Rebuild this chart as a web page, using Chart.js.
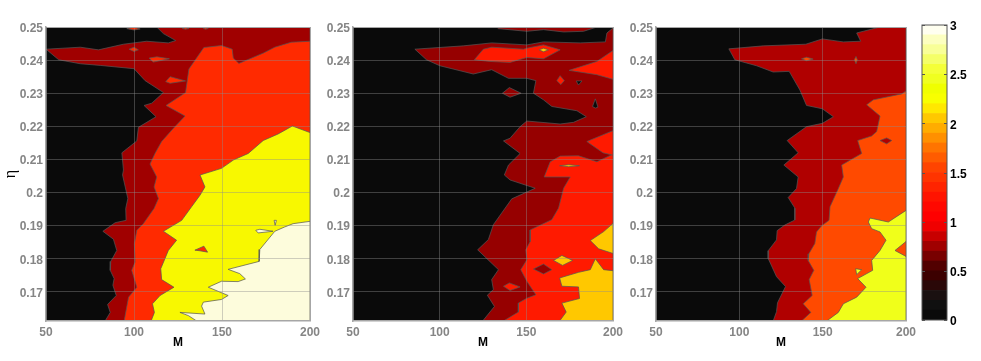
<!DOCTYPE html>
<html>
<head>
<meta charset="utf-8">
<script src="https://cdn.jsdelivr.net/npm/chart.js@4/dist/chart.umd.min.js"></script>
<style>
  html, body { margin: 0; padding: 0; background: #fff; }
  canvas { position: absolute; top: 0; }
</style>
</head>
<body>
<canvas id="panel1" width="330" height="361" style="left:0"></canvas>
<canvas id="panel2" width="330" height="361" style="left:307px"></canvas>
<canvas id="panel3" width="320" height="361" style="left:610px"></canvas>
<canvas id="colorbar" width="81" height="361" style="left:900px"></canvas>
<script>
// Axis ticks
const mTicks = [50, 100, 150, 200];
const etaTicks = [0.25, 0.24, 0.23, 0.22, 0.21, 0.2, 0.19, 0.18, 0.17];
const colorTicks = [0, 0.5, 1, 1.5, 2, 2.5, 3];

// Contour regions, as [M, eta] outlines
const frame = [[50, 0.1612], [200, 0.1612], [200, 0.25], [50, 0.25]];

// Left panel
const p1Level1 = [[112.9,0.25],[116.7,0.248],[123.7,0.2459],[119.5,0.2452],[107.2,0.2457],[94,0.2448],[79.8,0.2431],[69.5,0.2439],[50,0.2433],[57.2,0.2401],[69.5,0.2389],[80.8,0.2384],[100,0.2374],[106.3,0.2338],[116.7,0.2302],[110.1,0.227],[105.7,0.2263],[112.5,0.2229],[102.5,0.2197],[101.6,0.2156],[93.1,0.212],[94,0.2068],[93.5,0.2053],[96.5,0.1982],[95.3,0.1952],[95.5,0.1916],[89.3,0.1909],[82.3,0.1883],[88.3,0.1859],[90.2,0.1825],[86.8,0.1792],[86.5,0.1765],[88.7,0.174],[88,0.172],[89.9,0.1689],[85,0.1662],[86.5,0.1638],[83.6,0.1612],[200,0.1612],[200,0.25]];
const p1Level2 = [[200,0.2457],[189.4,0.2454],[180,0.2439],[173.4,0.2421],[159.6,0.239],[156.4,0.2406],[155.8,0.2433],[149.7,0.2444],[139.7,0.2438],[131.2,0.2373],[129.3,0.2302],[118.2,0.2263],[129,0.2231],[122.4,0.2194],[115.7,0.2154],[112,0.2119],[109.1,0.2086],[112.9,0.2047],[111.4,0.2017],[113.9,0.1982],[111.4,0.1952],[105.3,0.1906],[101.6,0.1886],[100.2,0.1845],[100.6,0.179],[98.7,0.1765],[101.6,0.1714],[96.9,0.1684],[94.4,0.1612],[200,0.1612]];
const p1Level3 = [[200,0.2181],[190,0.2201],[181.9,0.2177],[173.4,0.2157],[164.9,0.2118],[156.4,0.2098],[149.7,0.2073],[137.5,0.2053],[140.3,0.2017],[137.5,0.1992],[132.7,0.1957],[127.1,0.1916],[116.7,0.1883],[124.2,0.1856],[119.5,0.1825],[115.2,0.177],[115.7,0.1737],[122.7,0.1714],[114.8,0.1689],[110.5,0.1664],[111.6,0.1638],[109.7,0.1612],[200,0.1612]];
const p1Level4 = [[200,0.1913],[190.4,0.1906],[185.6,0.1896],[180,0.1883],[171.5,0.1828],[171.1,0.1792],[153.5,0.1768],[160.1,0.1755],[163.3,0.1739],[159.2,0.1731],[149.7,0.1732],[142.2,0.1714],[153.5,0.1689],[149.7,0.1677],[139.4,0.1669],[138.4,0.1657],[140.3,0.1633],[126.1,0.1638],[131,0.1628],[135.6,0.1612],[200,0.1612]];
const p1DotA = [[95.9,0.2495],[100,0.2499],[103.5,0.2494],[100,0.2491]];
const p1DotB = [[127.4,0.2496],[129.3,0.2498],[131.2,0.2496],[129.3,0.2493]];
const p1DotC = [[139.4,0.2496],[140.7,0.2498],[142.2,0.2496],[140.7,0.2493]];
const p1DotD = [[97.2,0.2433],[100,0.2439],[102.5,0.2431],[100,0.2426]];
const p1DotE = [[108.6,0.2406],[113,0.241],[120.1,0.2404],[110.9,0.2394]];
const p1DotF = [[118,0.2335],[120.5,0.235],[129.3,0.2337],[120.5,0.233]];
const p1DotG = [[134.6,0.1826],[139.7,0.1838],[141.8,0.182],[137.5,0.1824]];
const p1DotH = [[169.2,0.1886],[171.5,0.1889],[179,0.1883],[170.5,0.1878]];
const p1DotI = [[179.6,0.1916],[180.9,0.1916],[180.2,0.1901]];

// Middle panel
const p2Level1 = [[200,0.2497],[196.5,0.2482],[195.6,0.2455],[181.1,0.2452],[159.9,0.2455],[150.3,0.2446],[130,0.2452],[113.6,0.2443],[85.7,0.2433],[92.4,0.2401],[100.1,0.2383],[119.4,0.2358],[130,0.2371],[139.7,0.2345],[150.3,0.2345],[155.5,0.2338],[154.1,0.23],[159.9,0.228],[164.7,0.226],[179.2,0.2247],[184.6,0.2229],[177.2,0.2212],[169.5,0.2207],[150.3,0.2216],[146.4,0.2199],[140.6,0.2164],[136.8,0.2156],[146.4,0.2118],[139.7,0.2083],[137.3,0.2053],[140.6,0.2038],[155.1,0.2013],[141.6,0.1981],[131,0.1903],[128.1,0.1858],[121.9,0.1827],[133.9,0.1767],[130,0.1737],[131,0.1707],[127.5,0.169],[131.6,0.1656],[124.8,0.1612],[200,0.1612]];
const p2Strip = [[132.9,0.25],[133.9,0.2495],[150.3,0.2487],[159.9,0.2492],[171.5,0.2485],[183,0.2487],[190.7,0.25]];
const p2Level2 = [[200,0.2116],[190.7,0.2093],[180.1,0.2111],[169.5,0.211],[163.8,0.2093],[160.3,0.2047],[175.3,0.2047],[171.5,0.2013],[168.6,0.1953],[164.7,0.1918],[152.2,0.1887],[152.2,0.1852],[149.7,0.1827],[150.3,0.1797],[146.8,0.1767],[150.3,0.1732],[155.5,0.1691],[150.3,0.1681],[145.4,0.1666],[145.4,0.1639],[136.8,0.1612],[200,0.1612]];
const p2Top = [[120,0.2401],[125.2,0.2433],[130,0.2439],[148.3,0.2433],[150.3,0.2436],[159.9,0.2446],[169.5,0.2431],[159.9,0.2404],[150.3,0.2408],[140.6,0.2393],[129,0.2396]];
const p2Right1 = [[200,0.2429],[190.7,0.2396],[174.7,0.2369],[190.7,0.2356],[200,0.2342]];
const p2Right2 = [[200,0.2187],[184.9,0.2154],[194.2,0.212],[200,0.2113]];
const p2DotA = [[167.6,0.2338],[169.5,0.2353],[171.9,0.2338],[169.9,0.2326]];
const p2DotB = [[136.8,0.1717],[140.2,0.1727],[146.4,0.1715],[140.6,0.1704]];
const p2HoleA = [[178.8,0.2337],[180.1,0.2325],[182.1,0.2337]];
const p2HoleB = [[188.2,0.226],[189.8,0.2283],[191.3,0.2258],[189.8,0.2255]];
const p2Dark1 = [[136.2,0.23],[140.2,0.2317],[147,0.23],[140.6,0.2288]];
const p2Dark2 = [[154.1,0.1769],[159.9,0.1784],[164.7,0.1767],[159.9,0.1754]];
const p2Level3 = [[200,0.1764],[194.6,0.1767],[189.8,0.18],[186.9,0.1767],[180.1,0.1759],[169.2,0.1742],[170.5,0.1717],[180.1,0.1715],[180.7,0.168],[170.5,0.1666],[173,0.1639],[169.2,0.1612],[200,0.1612]];
const p2Right3 = [[200,0.1907],[194.6,0.1882],[186.9,0.1855],[191.7,0.183],[200,0.1816]];
const p2Gold1 = [[165.7,0.1795],[170.5,0.181],[176.7,0.1795],[170.9,0.178]];
const p2Gold2 = [[157.4,0.2431],[159.9,0.2436],[162.8,0.2431],[159.9,0.2425]];
const p2Gold3 = [[169.2,0.2081],[174.4,0.2084],[180.7,0.2081],[174.4,0.2078]];

// Right panel
const p3Level1 = [[184.4,0.25],[170.4,0.2482],[172.8,0.2457],[162.4,0.2455],[149.8,0.2464],[139.9,0.2448],[114.3,0.2443],[93.7,0.2434],[97.3,0.2401],[110.3,0.2383],[120.3,0.2364],[129.9,0.2366],[136.3,0.231],[140.3,0.2263],[149.8,0.2253],[156.4,0.2229],[149.8,0.2209],[140.3,0.2199],[128.7,0.2157],[135.3,0.212],[126.7,0.2083],[135.3,0.2047],[134.3,0.2012],[129.3,0.1985],[133.3,0.1953],[133.3,0.1917],[127.3,0.1902],[122.7,0.1885],[122.3,0.1857],[117.3,0.1824],[117.3,0.1801],[122.3,0.1746],[127.7,0.1716],[122.9,0.1667],[122.3,0.164],[120.3,0.1612],[200,0.1612],[200,0.25]];
const p3Level2 = [[200,0.2307],[197.4,0.2298],[180.4,0.228],[176.4,0.2265],[184.4,0.2231],[182.4,0.2184],[179.4,0.2171],[171,0.2157],[173.4,0.2118],[161.4,0.2083],[162.4,0.2047],[159.4,0.2012],[154.4,0.1957],[153.8,0.1916],[149.4,0.19],[146.3,0.1881],[145.3,0.1846],[141.7,0.1815],[141.3,0.1795],[144.7,0.1765],[141.9,0.1737],[143.7,0.1689],[138.3,0.1664],[142.9,0.1638],[137.3,0.1612],[200,0.1612]];
const p3Level3 = [[200,0.1946],[189.4,0.1911],[178.4,0.1923],[177.4,0.1911],[179.4,0.1891],[184.4,0.1881],[188,0.1856],[184.4,0.1825],[179.4,0.1795],[180,0.1765],[171,0.174],[176,0.1714],[170.4,0.1684],[162.4,0.1664],[159.4,0.1638],[152.4,0.1612],[200,0.1612]];
const p3Notch = [[200,0.1852],[193.4,0.1825],[200,0.1807]];
const p3Speck = [[169.8,0.177],[173.4,0.1767],[170.4,0.1752]];
const p3Dark = [[184.4,0.2157],[188.4,0.2165],[191.4,0.2157],[188.4,0.2147]];
const p3DotA = [[137.3,0.2404],[140.3,0.2409],[144.3,0.2403],[140.3,0.2398]];
const p3DotB = [[169,0.2401],[170,0.2411],[170.8,0.2401],[170,0.2389]];

// Colorbar bands, 0.1 wide, bottom to top
const bandWidth = 0.1;
const bandColors = ['#0a0a0a','#101010','#1a1010','#2a0808','#3c0000','#520000','#780000','#a00000','#c80000','#f00000',
  '#ff0000','#ff0800','#ff1400','#ff2400','#ff3400','#ff4400','#ff5c00','#ff7400','#ff9000','#ffac00',
  '#ffc800','#ffe800','#f8ff00','#f0ff00','#f0ff20','#f4ff38','#f4ff68','#f8ff98','#fcffc0','#fffff0'];

const BLACK = '#0a0a0a';
const GRID = 'rgba(140, 140, 140, 0.42)';
const EDGE = '#a6a6a6';
const TICK_GRAY = '#858585';

function region(points, color) {
    const closed = points.concat([points[0]]);
    return {
        data: closed.map(p => ({ x: p[0], y: p[1] })),
        showLine: true,
        fill: 'shape',
        backgroundColor: color,
        borderColor: 'rgba(85, 85, 85, 0.9)',
        borderWidth: 0.8,
        tension: 0,
        pointRadius: 0
    };
}

function drawPanel(id, regions, opts) {
    // chart.js paints the last dataset first, so flip to keep painter's order
    const datasets = [Object.assign(region(frame, BLACK), { borderWidth: 0 })]
        .concat(regions.map(r => region(r[0], r[1]))).reverse();

    new Chart(document.getElementById(id), {
        type: 'scatter',
        data: { datasets },
        options: {
            responsive: false,
            animation: false,
            events: [],
            layout: { padding: { top: 27, right: opts.right, left: 0, bottom: 0 } },
            plugins: { legend: { display: false }, tooltip: { enabled: false } },
            scales: {
                x: {
                    type: 'linear',
                    min: 50,
                    max: 200,
                    afterBuildTicks: s => { s.ticks = mTicks.map(v => ({ value: v })); },
                    afterFit: s => { s.height = 40; s.paddingLeft = 0; s.paddingRight = 0; },
                    grid: { z: 1, drawTicks: false, color: c => (c.tick && c.tick.value === 200) ? EDGE : GRID, lineWidth: 1 },
                    border: { z: 2, color: EDGE, width: 1.5 },
                    ticks: { color: TICK_GRAY, padding: 4, maxRotation: 0, font: { family: 'Liberation Sans', size: 12, weight: 'bold' } },
                    title: { display: true, text: 'M', color: '#000', padding: { top: 0, bottom: 11 }, font: { family: 'Liberation Sans', size: 12, weight: 'bold' } }
                },
                y: {
                    type: 'linear',
                    min: 0.1612,
                    max: 0.25,
                    afterBuildTicks: s => { s.ticks = etaTicks.map(v => ({ value: v })); },
                    afterFit: s => { s.width = 46; s.paddingTop = 0; s.paddingBottom = 0; },
                    grid: { z: 1, drawTicks: false, color: c => (c.tick && c.tick.value === 0.25) ? EDGE : GRID, lineWidth: 1 },
                    border: { z: 2, color: EDGE, width: 1.5 },
                    ticks: { color: TICK_GRAY, padding: 3, labelOffset: 1.5, callback: v => String(v), font: { family: 'Liberation Sans', size: 12, weight: 'bold' } },
                    title: { display: opts.showEta, text: 'η', color: '#000', padding: { top: 1, bottom: 0 }, font: { family: 'Liberation Serif', size: 16 } }
                }
            }
        }
    });
}

const DARK1 = '#a00000', RED1 = '#ff2a00', YELLOW1 = '#f8f800', CREAM1 = '#fdfcdc';
drawPanel('panel1', [
    [p1Level1, DARK1], [p1Level2, RED1], [p1Level3, YELLOW1], [p1Level4, CREAM1],
    [p1DotA, RED1], [p1DotB, RED1], [p1DotC, RED1], [p1DotD, RED1], [p1DotE, RED1], [p1DotF, RED1],
    [p1DotG, RED1], [p1DotH, CREAM1], [p1DotI, CREAM1]
], { right: 20, showEta: true });

const DARK2 = '#960000', RED2 = '#ff1a00', GOLD2 = '#ffc800';
drawPanel('panel2', [
    [p2Level1, DARK2], [p2Strip, DARK2], [p2Level2, RED2], [p2Top, RED2], [p2Right1, RED2], [p2Right2, RED2],
    [p2DotA, RED2], [p2DotB, RED2], [p2HoleA, BLACK], [p2HoleB, BLACK], [p2Dark1, DARK2], [p2Dark2, DARK2],
    [p2Level3, GOLD2], [p2Right3, GOLD2], [p2Gold1, GOLD2], [p2Gold2, GOLD2], [p2Gold3, GOLD2]
], { right: 24, showEta: false });

const DARK3 = '#b00000', ORANGE3 = '#ff4a00', YELLOW3 = '#f0ff1a';
drawPanel('panel3', [
    [p3Level1, DARK3], [p3Level2, ORANGE3], [p3Level3, YELLOW3], [p3Notch, ORANGE3],
    [p3Speck, YELLOW3], [p3Dark, DARK3], [p3DotA, ORANGE3], [p3DotB, ORANGE3]
], { right: 24, showEta: false });

// frame and the small inner tick marks of the colorbar
const colorbarFrame = {
    id: 'colorbarFrame',
    afterDraw(chart) {
        const a = chart.chartArea, ctx = chart.ctx, y = chart.scales.y;
        ctx.save();
        ctx.strokeStyle = '#555';
        ctx.lineWidth = 1;
        ctx.strokeRect(a.left, a.top, a.right - a.left, a.bottom - a.top);
        colorTicks.forEach(v => {
            const py = Math.round(y.getPixelForValue(v)) + 0.5;
            ctx.beginPath();
            ctx.moveTo(a.left, py); ctx.lineTo(a.left + 3, py);
            ctx.moveTo(a.right - 3, py); ctx.lineTo(a.right, py);
            ctx.stroke();
        });
        ctx.restore();
    }
};

new Chart(document.getElementById('colorbar'), {
    type: 'bar',
    data: {
        labels: ['level'],
        datasets: bandColors.map(c => ({
            data: [bandWidth],
            backgroundColor: c,
            borderWidth: 0,
            barPercentage: 1,
            categoryPercentage: 1
        }))
    },
    plugins: [colorbarFrame],
    options: {
        responsive: false,
        animation: false,
        events: [],
        layout: { padding: { top: 25, left: 22, right: 0, bottom: 41 } },
        plugins: { legend: { display: false }, tooltip: { enabled: false } },
        scales: {
            x: { stacked: true, display: false },
            y: {
                stacked: true,
                position: 'right',
                min: 0,
                max: 3,
                afterBuildTicks: s => { s.ticks = colorTicks.map(v => ({ value: v })); },
                afterFit: s => { s.width = 34; s.paddingTop = 0; s.paddingBottom = 0; },
                grid: { display: false, drawTicks: false },
                border: { display: false },
                ticks: { color: '#000', padding: 3, labelOffset: 2, callback: v => String(v), font: { family: 'Liberation Sans', size: 12, weight: 'bold' } }
            }
        }
    }
});
</script>
</body>
</html>
